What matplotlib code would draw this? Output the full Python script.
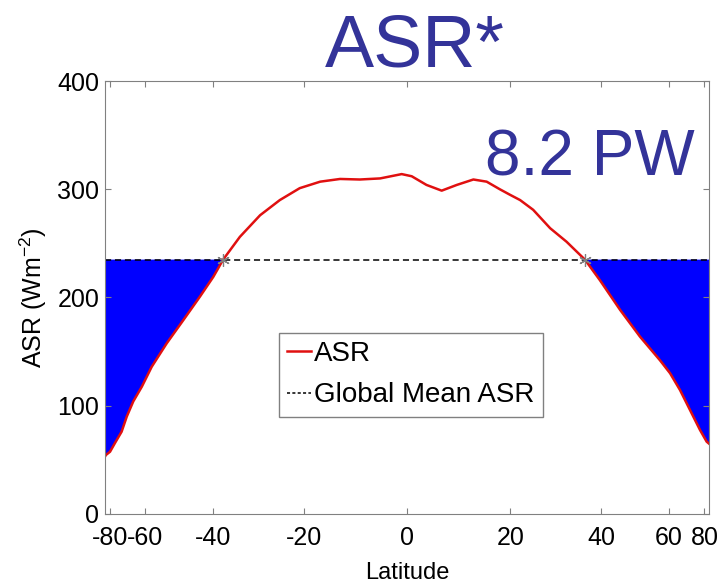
#%%imports
import matplotlib
matplotlib.use("Agg")
import matplotlib.pyplot as plt
import numpy as np

plt.rcParams["font.family"] = ["Liberation Sans", "DejaVu Sans"]
plt.rcParams["mathtext.fontset"] = "custom"
plt.rcParams["mathtext.rm"] = "Liberation Sans"
plt.rcParams["axes.unicode_minus"] = False

#%%data
lat = [-90, -85.5, -79.5, -75.2, -70.9, -68.1, -65, -61.4, -57.7, -52.7, -47.8, -43.3, -39.9, -37.5,
       -33.6, -29.1, -24.9, -20.8, -16.7, -12.8, -9, -5.1, -1, 0.9, 3.7, 6.6, 9.5, 12.7, 15.3,
       17.9, 19.9, 22, 24.7, 28.3, 31.9, 36.1, 39.7, 44.9, 50.5, 56.9, 60.6, 64.7, 69.6, 76, 82.9, 90]
asr = [53, 54.5, 57.5, 65.6, 76, 90, 104, 117.6, 136, 157.7, 179, 200.7, 219, 235,
       256, 276, 290, 301, 307, 309.5, 309, 310, 314, 312, 304, 298.7, 304, 309, 307,
       300, 295, 290, 281, 264, 251.5, 235, 216, 188.5, 163.8, 142, 130, 114.5, 96, 77.6, 66.8, 65]
global_mean = 235
xticks = [-80, -60, -40, -20, 0, 20, 40, 60, 80]
yticks = [0, 100, 200, 300, 400]
title = "ASR*"
transport = "8.2 PW"

#%%plot
lat = np.array(lat)
asr = np.array(asr)
xs = np.sin(np.deg2rad(lat))        #area weighted latitude axis
mean = np.full_like(asr, global_mean, dtype=float)

fig = plt.figure(figsize=(7.23, 5.84), dpi=100)
ax = fig.add_axes([0.1452, 0.1199, 0.8354, 0.7414])

ax.fill_between(xs, asr, mean, where=asr <= mean, interpolate=True, color="#0000ff", lw=0)
ax.plot(xs, asr, color="#e01010", lw=1.8, label="ASR", solid_joinstyle="round")
ax.plot([-1, 1], [global_mean, global_mean], color="black", ls="--", lw=1.1, dashes=(4, 2.5),
        label="Global Mean ASR")

#crossing markers
sign = np.sign(asr - global_mean)
for i in np.where(np.diff(sign) != 0)[0]:
    xc = np.interp(global_mean, sorted([asr[i], asr[i+1]]),
                   [xs[i], xs[i+1]] if asr[i] < asr[i+1] else [xs[i+1], xs[i]])
    ax.plot(xc, global_mean, marker=(6, 2, 0), color="gray", ms=9, mew=0.8)

ax.set_xlim(-1, 1)
ax.set_ylim(0, 400)
ax.set_xticks(np.sin(np.deg2rad(xticks)), [str(t) for t in xticks])
ax.set_yticks(yticks)
ax.tick_params(direction="in", top=True, right=True, length=4, color="gray", labelsize=18)
ax.tick_params(axis="x", pad=9)
ax.tick_params(axis="y", pad=4)
for sp in ax.spines.values():
    sp.set_color("gray")

ax.set_ylabel("ASR (Wm$^{\\mathrm{-2}}$)", fontsize=18, labelpad=6)
ax.set_xlabel("Latitude", fontsize=17, labelpad=8)

leg = ax.legend(loc="upper left", bbox_to_anchor=(0.386, 0.430), bbox_transform=fig.transFigure,
                fontsize=20, handlelength=0.85, handletextpad=0.1, borderpad=0.3,
                labelspacing=0.55, fancybox=False, framealpha=1, borderaxespad=0)
leg.get_frame().set_edgecolor("gray")
leg.get_lines()[1].set_dashes((2, 1.5))

fig.text(0.574, 0.978, title, fontsize=53, color="#333399", ha="center", va="top")
fig.text(0.671, 0.700, transport, fontsize=46, color="#333399", ha="left", va="baseline")

fig.savefig("out.png", dpi=100)
